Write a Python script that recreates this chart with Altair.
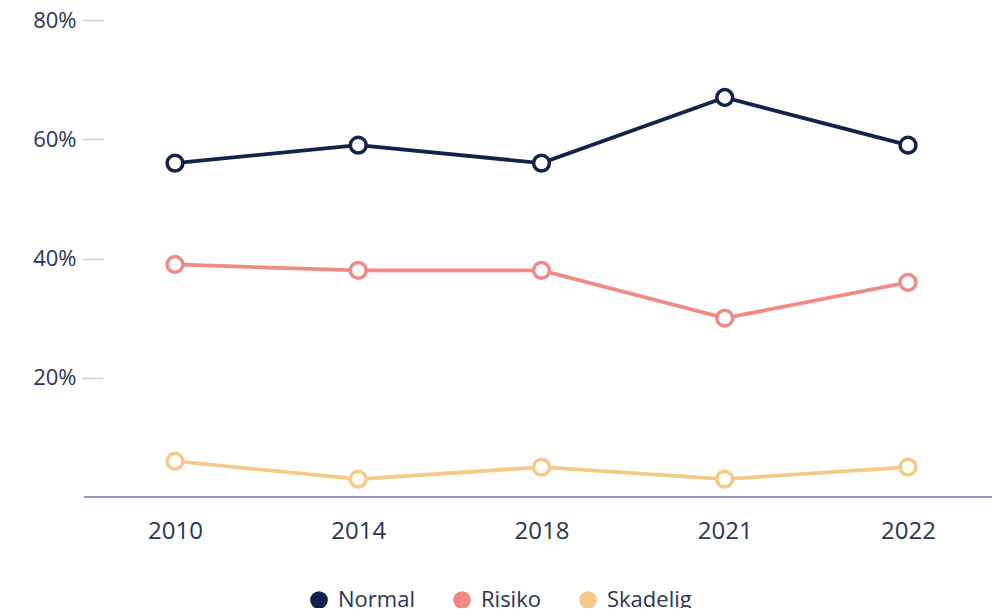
import altair as alt
import pandas as pd

years = ["2010", "2014", "2018", "2021", "2022"]
normal = [0.56, 0.59, 0.56, 0.67, 0.59]
risiko = [0.39, 0.38, 0.38, 0.30, 0.36]
skadelig = [0.06, 0.03, 0.05, 0.03, 0.05]
series = ["Normal", "Risiko", "Skadelig"]
colors = ["#14214a", "#ef8a84", "#f5c987"]

rows = []
for name, vals in zip(series, [normal, risiko, skadelig]):
    for y, v in zip(years, vals):
        rows.append({"year": y, "value": v, "series": name, "legend": name})
df = pd.DataFrame(rows)

FONT = "Open Sans"
TXT = "#2b3556"

x = alt.X("year:N", sort=years, scale=alt.Scale(type="point", padding=0, range=[91, 824]),
          axis=alt.Axis(title=None, labelAngle=0, ticks=False, domain=False,
                        labelPadding=22, labelFontSize=24,
                        labelColor=TXT, labelFont=FONT, grid=False))
y = alt.Y("value:Q", scale=alt.Scale(domain=[0, 0.8], nice=False),
          axis=alt.Axis(title=None, values=[0.2, 0.4, 0.6, 0.8], format=".0%",
                        domain=False, grid=False, tickSize=21, tickColor="#c9cde0",
                        tickWidth=1.5, offset=-19, labelPadding=6, labelFontSize=22,
                        labelColor=TXT, labelFont=FONT))
sscale = alt.Scale(domain=series, range=colors)

baseline = alt.Chart(df).mark_rule(color="#9499c2", strokeWidth=1.5).encode(
    y=alt.datum(0), x=alt.value(0), x2=alt.value(908))
legend_layer = alt.Chart(df).mark_circle(size=60, opacity=1, filled=True).encode(
    x=x, y=y,
    color=alt.Color("legend:N", scale=alt.Scale(domain=series, range=colors),
                    legend=alt.Legend(title=None, orient="none", direction="horizontal",
                                      legendX=224, legendY=569, symbolType="circle",
                                      symbolSize=314, symbolStrokeWidth=0, symbolOpacity=1,
                                      labelFontSize=22, labelColor=TXT, labelFont=FONT,
                                      labelOffset=8, columnPadding=36)))
lines = alt.Chart(df).mark_line(strokeWidth=3.8).encode(
    x=x, y=y, stroke=alt.Stroke("series:N", scale=sscale, legend=None))
points = alt.Chart(df).mark_point(filled=True, fill="white", size=250, strokeWidth=3.5,
                                  opacity=1).encode(
    x=x, y=y, stroke=alt.Stroke("series:N", scale=sscale, legend=None))

chart = (baseline + legend_layer + lines + points).properties(
    width=908, height=477,
    background="white",
    autosize=alt.AutoSizeParams(type="none"),
    padding={"left": 76, "top": 12, "right": 0, "bottom": 111},
).configure_view(strokeWidth=0)

chart.save("out.html", embed_options={"renderer": "svg", "actions": False})
